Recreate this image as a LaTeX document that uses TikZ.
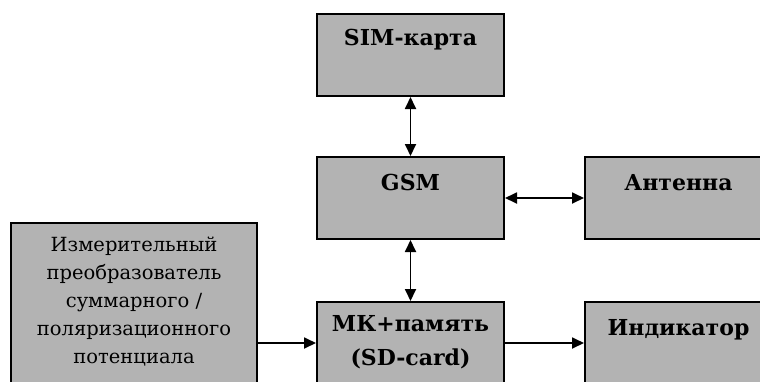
\documentclass[tikz,border=0pt]{standalone}
\usepackage{fontspec}
\setmainfont{DejaVu Serif}
\usetikzlibrary{arrows.meta}
\definecolor{boxgray}{RGB}{179,179,179}
\tikzset{
  blk/.style={draw=black, fill=boxgray, line width=2pt, minimum width=187pt, minimum height=82pt, inner sep=0pt, anchor=north west},
  bigblk/.style={blk, minimum width=246pt, minimum height=200pt},
  ttl/.style={font=\fontsize{22}{34}\selectfont\bfseries, anchor=north, align=center, inner sep=0pt},
  sub/.style={font=\fontsize{19.5}{28}\selectfont, text=black, anchor=north, align=center, inner sep=0pt},
  conn/.style={line width=1.8pt, -{Triangle[length=12pt,width=11pt]}},
  biconn/.style={line width=1.8pt, {Triangle[length=12pt,width=11pt]}-{Triangle[length=12pt,width=11pt]}}
}
\begin{document}
\begin{tikzpicture}[x=1pt,y=1pt]
\useasboundingbox (0,0) rectangle (760,-381);
\fill[white] (0,0) rectangle (760,-381);
\clip (0,0) rectangle (760,-381);
\node[blk] (sim) at (316,-13) {};
\node[blk] (gsm) at (316,-156) {};
\node[blk] (ant) at (584,-156) {};
\node[blk] (mk) at (316,-301) {};
\node[blk] (ind) at (584,-301) {};
\node[bigblk] (meas) at (10,-222) {};
\node[ttl] (simt) at ([yshift=-16pt]sim.north) {SIM-карта};
\node[ttl] (gsmt) at ([yshift=-18pt]gsm.north) {GSM};
\node[ttl] (antt) at ([yshift=-18pt]ant.north) {Антенна};
\node[ttl] (mkt) at ([yshift=-14pt]mk.north) {МК+память\\(SD-card)};
\node[ttl] (indt) at ([yshift=-18pt]ind.north) {Индикатор};
\node[sub] (meast) at ([yshift=-15pt]meas.north) {Измерительный\\преобразователь\\суммарного /\\поляризационного\\потенциала};
\draw[biconn] (sim.south) -- (gsm.north);
\draw[biconn] (gsm.south) -- (mk.north);
\draw[biconn] (gsm.east) -- (ant.west);
\draw[conn] (mk.east) -- (ind.west |- mk.east);
\draw[conn] (meas.east |- mk.west) -- (mk.west);
\end{tikzpicture}
\end{document}
